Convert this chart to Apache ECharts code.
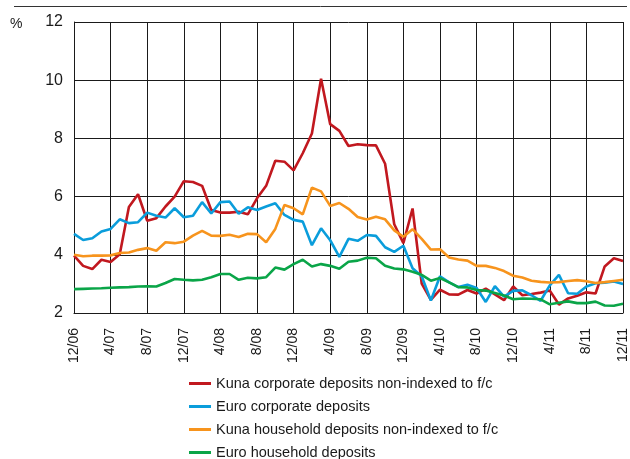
<!DOCTYPE html>
<html>
<head>
<meta charset="utf-8">
<script src="https://cdn.jsdelivr.net/npm/echarts@6/dist/echarts.min.js"></script>
<style>
  html, body { margin: 0; padding: 0; background: #fff; }
  #chart { width: 630px; height: 459px; }
</style>
</head>
<body>
<div id="chart"></div>
<script>
// monthly, 12/06 .. 12/11
const months = [
  "12/06", "1/07", "2/07", "3/07", "4/07", "5/07", "6/07", "7/07", "8/07", "9/07", "10/07", "11/07",
  "12/07", "1/08", "2/08", "3/08", "4/08", "5/08", "6/08", "7/08", "8/08", "9/08", "10/08", "11/08",
  "12/08", "1/09", "2/09", "3/09", "4/09", "5/09", "6/09", "7/09", "8/09", "9/09", "10/09", "11/09",
  "12/09", "1/10", "2/10", "3/10", "4/10", "5/10", "6/10", "7/10", "8/10", "9/10", "10/10", "11/10",
  "12/10", "1/11", "2/11", "3/11", "4/11", "5/11", "6/11", "7/11", "8/11", "9/11", "10/11", "11/11",
  "12/11"
];

const seriesNames = [
  "Kuna corporate deposits non-indexed to f/c",
  "Euro corporate deposits",
  "Kuna household deposits non-indexed to f/c",
  "Euro household deposits"
];

const kunaCorporate = [
  3.97, 3.62, 3.51, 3.83, 3.75, 4.02, 5.64, 6.08, 5.17, 5.26, 5.66, 6.0,
  6.53, 6.5, 6.37, 5.54, 5.45, 5.45, 5.48, 5.39, 5.94, 6.37, 7.23, 7.2,
  6.9, 7.49, 8.17, 10.05, 8.49, 8.26, 7.74, 7.8, 7.77, 7.76, 7.13, 5.05,
  4.4, 5.59, 3.01, 2.45, 2.8, 2.64, 2.63, 2.79, 2.67, 2.84, 2.64, 2.44,
  2.91, 2.61, 2.65, 2.7, 2.77, 2.29, 2.5, 2.59, 2.71, 2.67, 3.6, 3.88,
  3.79
];
const euroCorporate = [
  4.72, 4.51, 4.57, 4.8, 4.89, 5.22, 5.09, 5.12, 5.45, 5.34, 5.28, 5.6,
  5.29, 5.34, 5.81, 5.42, 5.81, 5.83, 5.41, 5.63, 5.54, 5.66, 5.77, 5.37,
  5.2, 5.14, 4.33, 4.91, 4.5, 3.93, 4.55, 4.48, 4.68, 4.65, 4.26, 4.1,
  4.31, 3.54, 3.26, 2.43, 3.26, 3.05, 2.89, 2.97, 2.86, 2.38, 2.92, 2.56,
  2.76, 2.78, 2.61, 2.42, 2.95, 3.31, 2.68, 2.66, 2.91, 3.02, 3.04, 3.08,
  3.0
];
const kunaHousehold = [
  4.0, 3.95, 3.97, 3.97, 3.98, 4.06, 4.08, 4.17, 4.23, 4.14, 4.43, 4.4,
  4.45, 4.66, 4.82, 4.66, 4.65, 4.69, 4.61, 4.72, 4.71, 4.43, 4.89, 5.71,
  5.6, 5.39, 6.31, 6.18, 5.68, 5.78, 5.58, 5.3, 5.21, 5.31, 5.22, 4.84,
  4.62, 4.88, 4.55, 4.18, 4.19, 3.91, 3.84, 3.8, 3.62, 3.62, 3.55, 3.44,
  3.28, 3.22, 3.11, 3.07, 3.05, 3.06, 3.1, 3.13, 3.09, 3.03, 3.06, 3.1,
  3.14
];
const euroHousehold = [
  2.82, 2.83, 2.84, 2.85, 2.87, 2.88, 2.89, 2.91, 2.92, 2.91, 3.03, 3.17,
  3.14, 3.12, 3.14, 3.23, 3.34, 3.34, 3.14, 3.21, 3.19, 3.23, 3.56, 3.49,
  3.68, 3.83, 3.6, 3.68, 3.62, 3.52, 3.76, 3.8, 3.9, 3.88, 3.62, 3.53,
  3.5, 3.42, 3.31, 3.11, 3.2, 3.05, 2.89, 2.88, 2.79, 2.77, 2.69, 2.6,
  2.47, 2.5, 2.49, 2.47, 2.3, 2.35, 2.4, 2.34, 2.34, 2.39, 2.26, 2.25,
  2.32
];

const colors = ["#c1181f", "#0a9ddb", "#f7941d", "#0aa548"];
const seriesData = [kunaCorporate, euroCorporate, kunaHousehold, euroHousehold];

const FONT = "'Liberation Sans', Arial, sans-serif";
const INK = "#1a1a1a";

const chart = echarts.init(document.getElementById("chart"), null, { renderer: "canvas" });

chart.setOption({
  animation: false,
  color: colors,
  grid: { left: 74, right: 3, top: 22, bottom: 146, containLabel: false },
  graphic: [
    {
      type: "line",
      shape: { x1: 14, y1: 6.5, x2: 627, y2: 6.5 },
      style: { stroke: "#333", lineWidth: 1 }
    },
    {
      type: "text",
      left: 10,
      top: 17,
      style: { text: "%", font: "14px " + FONT, fill: INK }
    }
  ],
  legend: {
    orient: "vertical",
    left: 189,
    top: 376,
    width: 380,
    height: 120,
    padding: 0,
    icon: "rect",
    itemWidth: 22,
    itemHeight: 3,
    itemGap: 8,
    data: seriesNames,
    textStyle: { fontFamily: FONT, fontSize: 14.5, color: INK, lineHeight: 14 }
  },
  xAxis: {
    type: "category",
    data: months,
    boundaryGap: false,
    axisLine: { show: true, lineStyle: { color: INK, width: 1 } },
    axisTick: { show: false },
    axisLabel: {
      interval: 3,
      rotate: 90,
      margin: 15,
      fontFamily: FONT,
      fontSize: 14,
      color: INK
    },
    splitLine: { show: true, interval: 3, lineStyle: { color: INK, width: 1 } }
  },
  yAxis: {
    type: "value",
    min: 2,
    max: 12,
    interval: 2,
    axisLine: { show: true, lineStyle: { color: INK, width: 1 } },
    axisTick: { show: false },
    axisLabel: { margin: 11, fontFamily: FONT, fontSize: 16, color: INK },
    splitLine: { show: true, lineStyle: { color: INK, width: 1 } }
  },
  series: seriesNames.map((name, k) => ({
    name: name,
    type: "line",
    data: seriesData[k],
    symbol: "none",
    lineStyle: { width: 2.6, color: colors[k] },
    itemStyle: { color: colors[k] }
  }))
});
</script>
</body>
</html>
